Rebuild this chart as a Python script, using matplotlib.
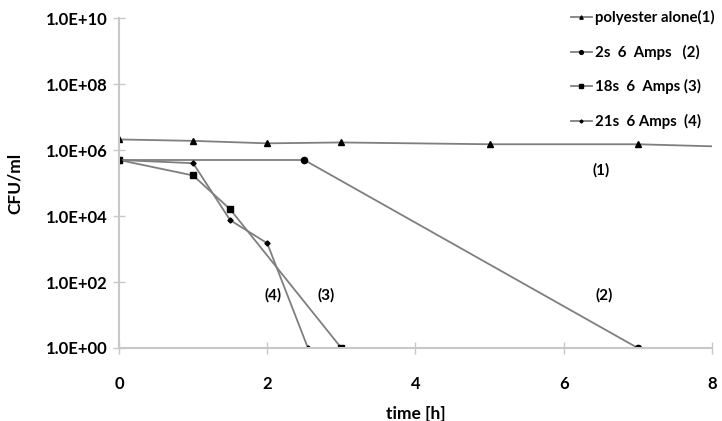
import math
import matplotlib
matplotlib.use("Agg")
import matplotlib.pyplot as plt
from matplotlib.ticker import FixedLocator, FuncFormatter

plt.rcParams['font.family'] = ['Lato', 'DejaVu Sans']

t1 = [0, 1, 2, 3, 5, 7, 8]
cfu1 = [2.1e6, 1.9e6, 1.6e6, 1.7e6, 1.5e6, 1.5e6, 1.3e6]
t2 = [0, 2.5, 7]
cfu2 = [5e5, 5e5, 1]
t3 = [0, 1, 1.5, 3]
cfu3 = [5e5, 1.7e5, 1.6e4, 1]
t4 = [0, 1, 1.5, 2, 2.55]
cfu4 = [5e5, 4e5, 7.5e3, 1.5e3, 1]

labels = ['polyester alone(1)', '2s  6  Amps   (2)', '18s  6  Amps (3)', '21s  6 Amps  (4)']
annots = ['(1)', '(2)', '(3)', '(4)']
annot_xy = [(6.5, 2.5e5), (6.55, 40), (2.8, 40), (2.08, 40)]
xticks = [0, 2, 4, 6, 8]
yticks = [1e0, 1e2, 1e4, 1e6, 1e8, 1e10]

fig = plt.figure(figsize=(7.22, 4.21), dpi=100)
ax = fig.add_axes([0.1648, 0.1734, 0.8212, 0.7836])

lc = '#7f7f7f'
ax.plot(t1, cfu1, color=lc, lw=1.3, marker='^', ms=4, mfc='black', mec='black', markevery=[0,1,2,3,4,5], label=labels[0])
ax.plot(t2, cfu2, color=lc, lw=1.3, marker='o', ms=4.5, mfc='black', mec='black', label=labels[1])
ax.plot(t3, cfu3, color=lc, lw=1.3, marker='s', ms=3.8, mfc='black', mec='black', label=labels[2])
ax.plot(t4, cfu4, color=lc, lw=1.3, marker='D', ms=2.6, mfc='black', mec='black', label=labels[3])

ax.set_yscale('log')
ax.set_xlim(0, 8)
ax.set_ylim(1e0, 1e10)
ax.xaxis.set_major_locator(FixedLocator(xticks))
ax.yaxis.set_major_locator(FixedLocator(yticks))
ax.yaxis.set_minor_locator(FixedLocator([]))
ax.yaxis.set_major_formatter(FuncFormatter(lambda v, p: '1.0E+%02d' % round(math.log10(v))))

for s in ['top', 'right']:
    ax.spines[s].set_visible(False)
for s in ['left', 'bottom']:
    ax.spines[s].set_color('#c8c8c8')
    ax.spines[s].set_linewidth(1.5)
ax.tick_params(axis='both', direction='inout', length=8, width=1, color='#c8c8c8', labelsize=12)
ax.tick_params(axis='x', pad=16)
ax.tick_params(axis='y', pad=4)
for lab in ax.get_xticklabels() + ax.get_yticklabels():
    lab.set_fontweight('bold')

ax.set_xlabel('time [h]', fontsize=12.5, fontweight='bold', labelpad=10)
ax.set_ylabel('CFU/ml', fontsize=12.5, fontweight='bold', labelpad=17)

for a, (x, y) in zip(annots, annot_xy):
    ax.text(x, y, a, fontsize=11, fontweight='bold', ha='center', va='center')

leg = ax.legend(loc='upper right', bbox_to_anchor=(1.027, 1.065), frameon=False, fontsize=10.8,
                handlelength=1.4, handletextpad=0.2, labelspacing=1.3, markerscale=0.6)
for txt in leg.get_texts():
    txt.set_fontweight('bold')

fig.savefig('out.png', dpi=100)
